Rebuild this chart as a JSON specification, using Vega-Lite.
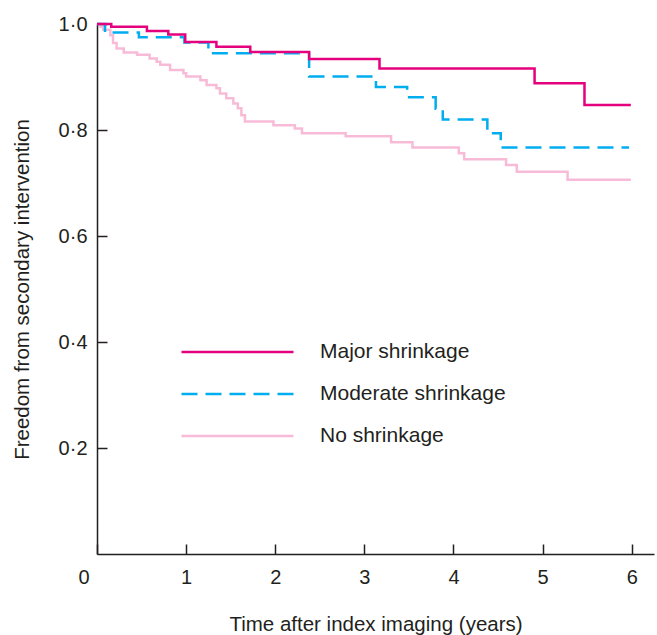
{
  "$schema": "https://vega.github.io/schema/vega-lite/v6.json",
  "width": 557,
  "height": 530,
  "autosize": "none",
  "padding": {"left": 97, "top": 24, "right": 3, "bottom": 81},
  "background": "white",
  "data": {
    "values": [
      {"g": "Major shrinkage", "t": 0, "s": 1.0},
      {"g": "Major shrinkage", "t": 0.16, "s": 0.995},
      {"g": "Major shrinkage", "t": 0.56, "s": 0.987},
      {"g": "Major shrinkage", "t": 0.8, "s": 0.98},
      {"g": "Major shrinkage", "t": 0.99, "s": 0.966},
      {"g": "Major shrinkage", "t": 1.34, "s": 0.957},
      {"g": "Major shrinkage", "t": 1.72, "s": 0.947},
      {"g": "Major shrinkage", "t": 2.38, "s": 0.934},
      {"g": "Major shrinkage", "t": 3.17, "s": 0.916},
      {"g": "Major shrinkage", "t": 4.91, "s": 0.888},
      {"g": "Major shrinkage", "t": 5.47, "s": 0.847},
      {"g": "Major shrinkage", "t": 5.99, "s": 0.847},
      {"g": "Moderate shrinkage", "t": 0, "s": 1.0},
      {"g": "Moderate shrinkage", "t": 0.09, "s": 0.984},
      {"g": "Moderate shrinkage", "t": 0.47, "s": 0.975},
      {"g": "Moderate shrinkage", "t": 0.98, "s": 0.965},
      {"g": "Moderate shrinkage", "t": 1.25, "s": 0.945},
      {"g": "Moderate shrinkage", "t": 2.38, "s": 0.901},
      {"g": "Moderate shrinkage", "t": 3.13, "s": 0.881},
      {"g": "Moderate shrinkage", "t": 3.48, "s": 0.862},
      {"g": "Moderate shrinkage", "t": 3.8, "s": 0.84},
      {"g": "Moderate shrinkage", "t": 3.88, "s": 0.82},
      {"g": "Moderate shrinkage", "t": 4.38, "s": 0.794},
      {"g": "Moderate shrinkage", "t": 4.53, "s": 0.767},
      {"g": "Moderate shrinkage", "t": 5.97, "s": 0.767},
      {"g": "No shrinkage", "t": 0, "s": 1.0},
      {"g": "No shrinkage", "t": 0.04, "s": 0.995},
      {"g": "No shrinkage", "t": 0.07, "s": 0.989},
      {"g": "No shrinkage", "t": 0.15, "s": 0.979},
      {"g": "No shrinkage", "t": 0.18, "s": 0.964},
      {"g": "No shrinkage", "t": 0.22, "s": 0.954},
      {"g": "No shrinkage", "t": 0.3, "s": 0.946},
      {"g": "No shrinkage", "t": 0.45, "s": 0.942},
      {"g": "No shrinkage", "t": 0.59, "s": 0.935},
      {"g": "No shrinkage", "t": 0.67, "s": 0.929},
      {"g": "No shrinkage", "t": 0.71, "s": 0.923},
      {"g": "No shrinkage", "t": 0.82, "s": 0.913},
      {"g": "No shrinkage", "t": 0.97, "s": 0.907},
      {"g": "No shrinkage", "t": 1.0, "s": 0.901},
      {"g": "No shrinkage", "t": 1.16, "s": 0.894},
      {"g": "No shrinkage", "t": 1.23, "s": 0.885},
      {"g": "No shrinkage", "t": 1.34, "s": 0.879},
      {"g": "No shrinkage", "t": 1.38, "s": 0.869},
      {"g": "No shrinkage", "t": 1.45, "s": 0.86},
      {"g": "No shrinkage", "t": 1.53, "s": 0.85},
      {"g": "No shrinkage", "t": 1.58, "s": 0.841},
      {"g": "No shrinkage", "t": 1.62, "s": 0.828},
      {"g": "No shrinkage", "t": 1.66, "s": 0.816},
      {"g": "No shrinkage", "t": 1.98, "s": 0.809},
      {"g": "No shrinkage", "t": 2.22, "s": 0.803},
      {"g": "No shrinkage", "t": 2.3, "s": 0.794},
      {"g": "No shrinkage", "t": 2.79, "s": 0.788},
      {"g": "No shrinkage", "t": 3.3, "s": 0.777},
      {"g": "No shrinkage", "t": 3.54, "s": 0.767},
      {"g": "No shrinkage", "t": 4.06, "s": 0.756},
      {"g": "No shrinkage", "t": 4.12, "s": 0.745},
      {"g": "No shrinkage", "t": 4.59, "s": 0.734},
      {"g": "No shrinkage", "t": 4.71, "s": 0.721},
      {"g": "No shrinkage", "t": 5.28, "s": 0.706},
      {"g": "No shrinkage", "t": 5.99, "s": 0.706}
    ]
  },
  "encoding": {
    "x": {
      "field": "t",
      "type": "quantitative",
      "scale": {"domain": [0, 6.25], "nice": false, "zero": false},
      "axis": {
        "title": "Time after index imaging (years)",
        "values": [0, 1, 2, 3, 4, 5, 6],
        "format": "d",
        "tickSize": -10,
        "labelPadding": 23,
        "labelOffset": {"condition": {"test": "datum.value === 0", "value": -19}, "value": 0},
        "titlePadding": 27
      }
    },
    "y": {
      "field": "s",
      "type": "quantitative",
      "scale": {"domain": [0, 1], "nice": false},
      "axis": {
        "title": "Freedom from secondary intervention",
        "values": [0.2, 0.4, 0.6, 0.8, 1.0],
        "labelExpr": "replace(format(datum.value, '.1f'), '.', '·')",
        "tickSize": -10,
        "labelPadding": 20,
        "titlePadding": 26
      }
    },
    "color": {
      "field": "g",
      "type": "nominal",
      "scale": {
        "domain": ["Major shrinkage", "Moderate shrinkage", "No shrinkage"],
        "range": ["#e5007d", "#00aeef", "#f8bbd7"]
      },
      "legend": {"orient": "none", "legendX": 83, "legendY": 317, "title": null}
    },
    "strokeDash": {
      "field": "g",
      "type": "nominal",
      "scale": {
        "domain": ["Major shrinkage", "Moderate shrinkage", "No shrinkage"],
        "range": [[1, 0], [16, 8], [1, 0]]
      },
      "legend": {"orient": "none", "legendX": 83, "legendY": 317, "title": null}
    }
  },
  "layer": [
    {
      "transform": [{"filter": "datum.g === 'No shrinkage'"}],
      "mark": {"type": "line", "interpolate": "step-after", "strokeWidth": 2.5}
    },
    {
      "transform": [{"filter": "datum.g === 'Moderate shrinkage'"}],
      "mark": {"type": "line", "interpolate": "step-after", "strokeWidth": 2.5}
    },
    {
      "transform": [{"filter": "datum.g === 'Major shrinkage'"}],
      "mark": {"type": "line", "interpolate": "step-after", "strokeWidth": 2.5}
    }
  ],
  "config": {
    "view": {"stroke": null},
    "font": "Liberation Sans",
    "axis": {
      "grid": false,
      "domainColor": "#231f20",
      "domainWidth": 1.5,
      "tickColor": "#231f20",
      "tickWidth": 1.5,
      "labelColor": "#231f20",
      "labelFontSize": 20,
      "titleColor": "#231f20",
      "titleFontSize": 20.5,
      "titleFontWeight": "normal"
    },
    "legend": {
      "symbolType": "stroke",
      "symbolSize": 12544,
      "symbolStrokeWidth": 2.5,
      "labelFontSize": 21,
      "labelColor": "#231f20",
      "labelOffset": 25,
      "labelLimit": 400,
      "clipHeight": 22,
      "rowPadding": 20,
      "padding": 0
    }
  }
}
